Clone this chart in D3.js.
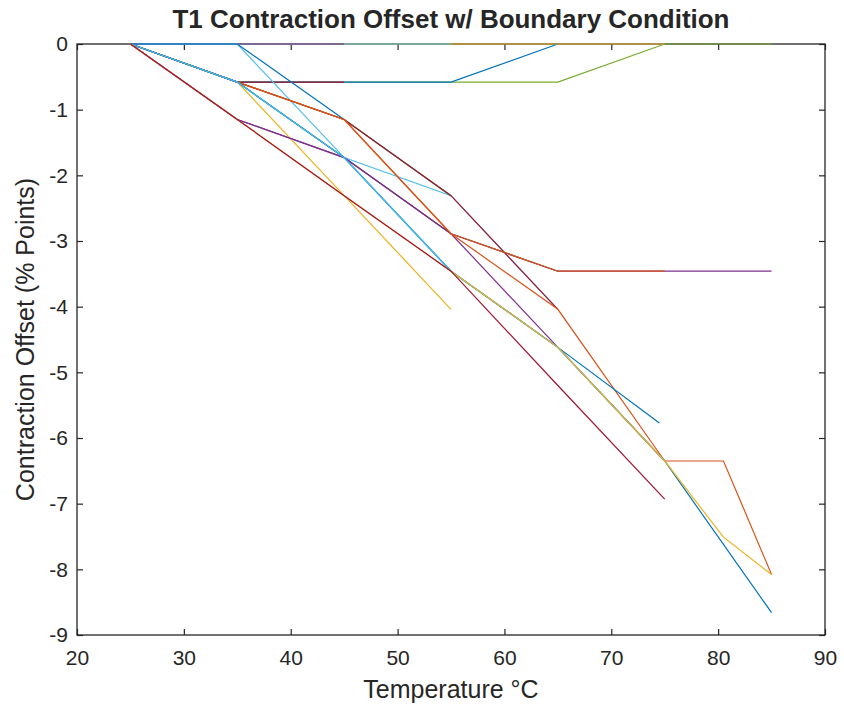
<!DOCTYPE html>
<html>
<head>
<meta charset="utf-8">
<script src="https://cdn.jsdelivr.net/npm/d3@7"></script>
<style>
  body { margin: 0; background: #fff; }
  text { font-family: "Liberation Sans", Arial, sans-serif; fill: #262626; }
</style>
</head>
<body>
<script>
// temperature steps (deg C)
var temps = [25, 35, 45, 55, 65, 75, 85];
var tempsKink = [25, 35, 45, 55, 65, 75, 80.5, 85];
var tempsShort = [25, 35, 45, 55, 65, 74.5];

// contraction offset runs (% points), in drawing order
var runGreenTop   = [0, -0.58, -0.58, -0.58, -0.58, 0, 0];
var runBlueTop    = [0, -0.58, -0.58, -0.58, 0];
var runRedTop     = [0, -0.58, -0.58];
var runYellowZero = [0, 0, 0, 0, 0, 0];
var runCyanZero   = [0, 0, 0, 0];
var runPurpleZero = [0, 0, 0];
var runGreenA     = [0, -0.58, -1.73, -2.89, -3.46];
var runPurpleA    = [0, -1.15, -1.73, -2.89, -4.62, -6.35];
var runYellowA    = [0, -0.58, -2.31, -4.04];
var runCyanA      = [0, 0, -1.73, -2.31, -4.04];
var runBlueA      = [0, 0, -1.15, -2.31];
var runGreenB     = [0, -0.58, -1.15, -2.31];
var runRedA       = [0, -0.58, -1.15, -2.31, -4.04];
var runPurpleB    = [0, -1.15, -1.73, -2.89, -3.46, -3.46, -3.46];
var runOrangeA    = [0, -0.58, -1.15, -2.89, -4.04, -6.35, -6.35, -8.08];
var runOrangeB    = [0, -0.58, -1.15, -2.89, -3.46, -3.46];
var runBlueB      = [0, -0.58, -1.73, -3.46, -4.62, -5.77];
var runBlueC      = [0, -0.58, -1.73, -3.46, -4.62, -6.35, -8.66];
var runCyanB      = [0, -0.58, -1.73, -3.46, -4.62, -6.35];
var runYellowB    = [0, -1.15, -2.31, -3.46, -4.62, -6.35, -7.51, -8.08];
var runRedB       = [0, -1.15, -2.31, -3.46, -5.20, -6.93];

var xTicks = [20, 30, 40, 50, 60, 70, 80, 90];
var yTicks = [0, -1, -2, -3, -4, -5, -6, -7, -8, -9];

// MATLAB default colour order
var palette = {
  blue: "#0072BD", orange: "#D95319", yellow: "#EDB120", purple: "#7E2F8E",
  green: "#77AC30", cyan: "#4DBEEE", red: "#A2142F"
};

var runs = [
  { t: temps, v: runGreenTop, c: "green" },
  { t: temps, v: runBlueTop, c: "blue" },
  { t: temps, v: runRedTop, c: "red" },
  { t: temps, v: runYellowZero, c: "yellow" },
  { t: temps, v: runCyanZero, c: "cyan" },
  { t: temps, v: runPurpleZero, c: "purple" },
  { t: temps, v: runGreenA, c: "green" },
  { t: temps, v: runPurpleA, c: "purple" },
  { t: temps, v: runYellowA, c: "yellow" },
  { t: temps, v: runCyanA, c: "cyan" },
  { t: temps, v: runBlueA, c: "blue" },
  { t: temps, v: runGreenB, c: "green" },
  { t: temps, v: runRedA, c: "red" },
  { t: temps, v: runPurpleB, c: "purple" },
  { t: tempsKink, v: runOrangeA, c: "orange" },
  { t: temps, v: runOrangeB, c: "orange" },
  { t: tempsShort, v: runBlueB, c: "blue" },
  { t: temps, v: runBlueC, c: "blue" },
  { t: temps, v: runCyanB, c: "cyan" },
  { t: tempsKink, v: runYellowB, c: "yellow" },
  { t: temps, v: runRedB, c: "red" }
];

var svgWidth = 844;
var svgHeight = 709;
var margin = { top: 44, right: 19, bottom: 74, left: 77 };
var chartWidth = svgWidth - margin.left - margin.right;
var chartHeight = svgHeight - margin.top - margin.bottom;

var svg = d3.select("body").append("svg")
  .attr("width", svgWidth)
  .attr("height", svgHeight);

var chartGroup = svg.append("g")
  .attr("transform", `translate(${margin.left}, ${margin.top})`);

var xScale = d3.scaleLinear().domain([20, 90]).range([0, chartWidth]);
var yScale = d3.scaleLinear().domain([-9, 0]).range([chartHeight, 0]);

// axes, ticks pointing inward on all four sides
function styleAxis(g) {
  g.select(".domain").remove();
  g.selectAll(".tick line").attr("stroke", "#262626").attr("stroke-width", 1.2);
  g.selectAll("text").attr("font-size", "21px").attr("fill", "#262626");
}

// plain hyphen minus like the original
var plain = d => String(d);

chartGroup.append("rect")
  .attr("width", chartWidth)
  .attr("height", chartHeight)
  .attr("fill", "none")
  .attr("stroke", "#262626")
  .attr("stroke-width", 1.3);

chartGroup.append("g")
  .attr("transform", `translate(0, ${chartHeight})`)
  .call(d3.axisBottom(xScale).tickValues(xTicks).tickFormat(plain).tickSizeInner(-6).tickSizeOuter(0).tickPadding(15))
  .call(styleAxis);
chartGroup.append("g")
  .call(d3.axisLeft(yScale).tickValues(yTicks).tickFormat(plain).tickSizeInner(-6).tickSizeOuter(0).tickPadding(9))
  .call(styleAxis);
chartGroup.append("g")
  .call(d3.axisTop(xScale).tickValues(xTicks).tickSizeInner(-6).tickSizeOuter(0).tickFormat(""))
  .call(styleAxis);
chartGroup.append("g")
  .attr("transform", `translate(${chartWidth}, 0)`)
  .call(d3.axisRight(yScale).tickValues(yTicks).tickSizeInner(-6).tickSizeOuter(0).tickFormat(""))
  .call(styleAxis);

// data lines drawn over the axes box, like the original
var line = d3.line()
  .x(d => xScale(d[0]))
  .y(d => yScale(d[1]));

runs.forEach(function(r) {
  chartGroup.append("path")
    .datum(r.v.map((v, i) => [r.t[i], v]))
    .attr("d", line)
    .attr("fill", "none")
    .attr("stroke", palette[r.c])
    .attr("stroke-width", 1.2);
});

svg.append("text")
  .attr("x", margin.left + chartWidth / 2)
  .attr("y", 28)
  .attr("text-anchor", "middle")
  .attr("font-size", "25px")
  .attr("font-weight", "bold")
  .attr("fill", "#000")
  .attr("textLength", 557)
  .attr("lengthAdjust", "spacingAndGlyphs")
  .text("T1 Contraction Offset w/ Boundary Condition");

svg.append("text")
  .attr("x", margin.left + chartWidth / 2)
  .attr("y", 698)
  .attr("text-anchor", "middle")
  .attr("font-size", "25px")
  .text("Temperature °C");

svg.append("text")
  .attr("transform", `translate(34, ${margin.top + chartHeight / 2}) rotate(-90)`)
  .attr("text-anchor", "middle")
  .attr("font-size", "25px")
  .text("Contraction Offset (% Points)");
</script>
</body>
</html>
